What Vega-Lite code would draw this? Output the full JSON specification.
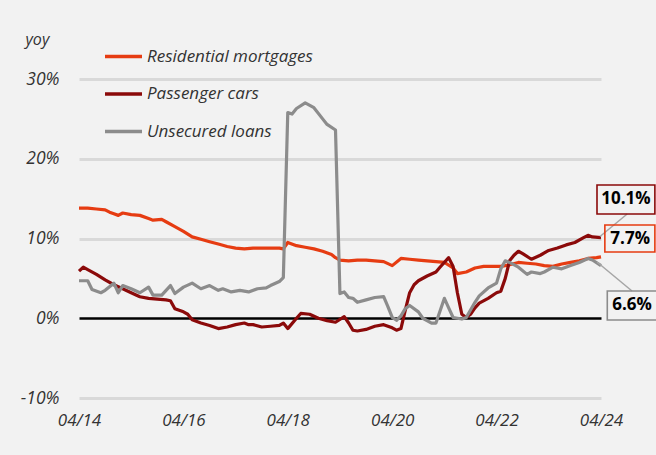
{
"$schema": "https://vega.github.io/schema/vega-lite/v6.json",
"width": 522, "height": 319,
"autosize": {"type": "none"},
"padding": {"left": 79, "top": 79, "right": 55, "bottom": 57},
"background": "#f2f2f2",
"config": {"view": {"stroke": null}, "font": "Open Sans",
  "axis": {"labelColor": "#333333", "labelFontStyle": "italic", "labelFontSize": 17, "labelFont": "Open Sans", "ticks": false, "tickSize": 0, "domain": false}},
"datasets": {
"series": [
{"d":"2014-04-01","s":"Residential mortgages","v":13.8},
{"d":"2014-06-01","s":"Residential mortgages","v":13.8},
{"d":"2014-08-01","s":"Residential mortgages","v":13.7},
{"d":"2014-10-01","s":"Residential mortgages","v":13.6},
{"d":"2014-11-01","s":"Residential mortgages","v":13.3},
{"d":"2014-12-01","s":"Residential mortgages","v":13.1},
{"d":"2015-01-01","s":"Residential mortgages","v":12.9},
{"d":"2015-02-01","s":"Residential mortgages","v":13.2},
{"d":"2015-04-01","s":"Residential mortgages","v":13.0},
{"d":"2015-06-01","s":"Residential mortgages","v":12.9},
{"d":"2015-08-01","s":"Residential mortgages","v":12.5},
{"d":"2015-09-01","s":"Residential mortgages","v":12.3},
{"d":"2015-11-01","s":"Residential mortgages","v":12.4},
{"d":"2015-12-01","s":"Residential mortgages","v":12.1},
{"d":"2016-02-01","s":"Residential mortgages","v":11.5},
{"d":"2016-04-01","s":"Residential mortgages","v":10.9},
{"d":"2016-06-01","s":"Residential mortgages","v":10.2},
{"d":"2016-08-01","s":"Residential mortgages","v":9.9},
{"d":"2016-10-01","s":"Residential mortgages","v":9.6},
{"d":"2016-12-01","s":"Residential mortgages","v":9.3},
{"d":"2017-02-01","s":"Residential mortgages","v":9.0},
{"d":"2017-04-01","s":"Residential mortgages","v":8.8},
{"d":"2017-06-01","s":"Residential mortgages","v":8.7},
{"d":"2017-08-01","s":"Residential mortgages","v":8.8},
{"d":"2017-10-01","s":"Residential mortgages","v":8.8},
{"d":"2017-12-01","s":"Residential mortgages","v":8.8},
{"d":"2018-02-01","s":"Residential mortgages","v":8.8},
{"d":"2018-03-01","s":"Residential mortgages","v":8.7},
{"d":"2018-04-01","s":"Residential mortgages","v":9.5},
{"d":"2018-06-01","s":"Residential mortgages","v":9.1},
{"d":"2018-08-01","s":"Residential mortgages","v":8.9},
{"d":"2018-10-01","s":"Residential mortgages","v":8.7},
{"d":"2018-12-01","s":"Residential mortgages","v":8.4},
{"d":"2019-02-01","s":"Residential mortgages","v":8.0},
{"d":"2019-03-01","s":"Residential mortgages","v":7.6},
{"d":"2019-04-01","s":"Residential mortgages","v":7.3},
{"d":"2019-06-01","s":"Residential mortgages","v":7.2},
{"d":"2019-08-01","s":"Residential mortgages","v":7.3},
{"d":"2019-10-01","s":"Residential mortgages","v":7.3},
{"d":"2019-12-01","s":"Residential mortgages","v":7.2},
{"d":"2020-02-01","s":"Residential mortgages","v":7.1},
{"d":"2020-04-01","s":"Residential mortgages","v":6.6},
{"d":"2020-06-01","s":"Residential mortgages","v":7.5},
{"d":"2020-08-01","s":"Residential mortgages","v":7.4},
{"d":"2020-10-01","s":"Residential mortgages","v":7.3},
{"d":"2020-12-01","s":"Residential mortgages","v":7.2},
{"d":"2021-02-01","s":"Residential mortgages","v":7.1},
{"d":"2021-04-01","s":"Residential mortgages","v":7.0},
{"d":"2021-06-01","s":"Residential mortgages","v":6.3},
{"d":"2021-07-01","s":"Residential mortgages","v":5.6},
{"d":"2021-09-01","s":"Residential mortgages","v":5.8},
{"d":"2021-11-01","s":"Residential mortgages","v":6.3},
{"d":"2022-01-01","s":"Residential mortgages","v":6.5},
{"d":"2022-03-01","s":"Residential mortgages","v":6.5},
{"d":"2022-05-01","s":"Residential mortgages","v":6.5},
{"d":"2022-07-01","s":"Residential mortgages","v":6.7},
{"d":"2022-09-01","s":"Residential mortgages","v":7.0},
{"d":"2022-11-01","s":"Residential mortgages","v":6.9},
{"d":"2023-01-01","s":"Residential mortgages","v":6.8},
{"d":"2023-03-01","s":"Residential mortgages","v":6.6},
{"d":"2023-05-01","s":"Residential mortgages","v":6.5},
{"d":"2023-07-01","s":"Residential mortgages","v":6.8},
{"d":"2023-09-01","s":"Residential mortgages","v":7.0},
{"d":"2023-11-01","s":"Residential mortgages","v":7.2},
{"d":"2024-01-01","s":"Residential mortgages","v":7.5},
{"d":"2024-03-01","s":"Residential mortgages","v":7.6},
{"d":"2024-04-01","s":"Residential mortgages","v":7.7},
{"d":"2014-04-01","s":"Passenger cars","v":5.9},
{"d":"2014-05-01","s":"Passenger cars","v":6.4},
{"d":"2014-06-01","s":"Passenger cars","v":6.1},
{"d":"2014-08-01","s":"Passenger cars","v":5.5},
{"d":"2014-10-01","s":"Passenger cars","v":4.8},
{"d":"2014-12-01","s":"Passenger cars","v":4.2},
{"d":"2015-02-01","s":"Passenger cars","v":3.7},
{"d":"2015-04-01","s":"Passenger cars","v":3.2},
{"d":"2015-06-01","s":"Passenger cars","v":2.7},
{"d":"2015-08-01","s":"Passenger cars","v":2.5},
{"d":"2015-10-01","s":"Passenger cars","v":2.4},
{"d":"2015-12-01","s":"Passenger cars","v":2.3},
{"d":"2016-01-01","s":"Passenger cars","v":2.2},
{"d":"2016-02-01","s":"Passenger cars","v":1.2},
{"d":"2016-04-01","s":"Passenger cars","v":0.8},
{"d":"2016-05-01","s":"Passenger cars","v":0.5},
{"d":"2016-06-01","s":"Passenger cars","v":-0.2},
{"d":"2016-08-01","s":"Passenger cars","v":-0.6},
{"d":"2016-10-01","s":"Passenger cars","v":-0.9},
{"d":"2016-12-01","s":"Passenger cars","v":-1.3},
{"d":"2017-02-01","s":"Passenger cars","v":-1.1},
{"d":"2017-04-01","s":"Passenger cars","v":-0.8},
{"d":"2017-06-01","s":"Passenger cars","v":-0.6},
{"d":"2017-07-01","s":"Passenger cars","v":-0.8},
{"d":"2017-08-01","s":"Passenger cars","v":-0.8},
{"d":"2017-10-01","s":"Passenger cars","v":-1.1},
{"d":"2017-12-01","s":"Passenger cars","v":-1.0},
{"d":"2018-02-01","s":"Passenger cars","v":-0.9},
{"d":"2018-03-01","s":"Passenger cars","v":-0.6},
{"d":"2018-04-01","s":"Passenger cars","v":-1.3},
{"d":"2018-06-01","s":"Passenger cars","v":0.0},
{"d":"2018-07-01","s":"Passenger cars","v":0.6},
{"d":"2018-09-01","s":"Passenger cars","v":0.5},
{"d":"2018-11-01","s":"Passenger cars","v":0.0},
{"d":"2019-01-01","s":"Passenger cars","v":-0.3},
{"d":"2019-03-01","s":"Passenger cars","v":-0.5},
{"d":"2019-05-01","s":"Passenger cars","v":0.2},
{"d":"2019-06-01","s":"Passenger cars","v":-0.6},
{"d":"2019-07-01","s":"Passenger cars","v":-1.5},
{"d":"2019-08-01","s":"Passenger cars","v":-1.6},
{"d":"2019-10-01","s":"Passenger cars","v":-1.4},
{"d":"2019-12-01","s":"Passenger cars","v":-1.0},
{"d":"2020-02-01","s":"Passenger cars","v":-0.8},
{"d":"2020-04-01","s":"Passenger cars","v":-1.2},
{"d":"2020-05-01","s":"Passenger cars","v":-1.5},
{"d":"2020-06-01","s":"Passenger cars","v":-1.3},
{"d":"2020-07-01","s":"Passenger cars","v":1.0},
{"d":"2020-08-01","s":"Passenger cars","v":3.2},
{"d":"2020-09-01","s":"Passenger cars","v":4.2},
{"d":"2020-10-01","s":"Passenger cars","v":4.7},
{"d":"2020-12-01","s":"Passenger cars","v":5.3},
{"d":"2021-02-01","s":"Passenger cars","v":5.8},
{"d":"2021-03-01","s":"Passenger cars","v":6.4},
{"d":"2021-05-01","s":"Passenger cars","v":7.6},
{"d":"2021-06-01","s":"Passenger cars","v":6.5},
{"d":"2021-07-01","s":"Passenger cars","v":3.2},
{"d":"2021-08-01","s":"Passenger cars","v":0.5},
{"d":"2021-09-01","s":"Passenger cars","v":0.1},
{"d":"2021-10-01","s":"Passenger cars","v":0.5},
{"d":"2021-11-01","s":"Passenger cars","v":1.3},
{"d":"2021-12-01","s":"Passenger cars","v":1.9},
{"d":"2022-02-01","s":"Passenger cars","v":2.5},
{"d":"2022-04-01","s":"Passenger cars","v":3.2},
{"d":"2022-05-01","s":"Passenger cars","v":3.4},
{"d":"2022-06-01","s":"Passenger cars","v":5.0},
{"d":"2022-07-01","s":"Passenger cars","v":7.2},
{"d":"2022-08-01","s":"Passenger cars","v":7.9},
{"d":"2022-09-01","s":"Passenger cars","v":8.4},
{"d":"2022-10-01","s":"Passenger cars","v":8.1},
{"d":"2022-12-01","s":"Passenger cars","v":7.4},
{"d":"2023-02-01","s":"Passenger cars","v":7.9},
{"d":"2023-04-01","s":"Passenger cars","v":8.5},
{"d":"2023-06-01","s":"Passenger cars","v":8.8},
{"d":"2023-08-01","s":"Passenger cars","v":9.2},
{"d":"2023-10-01","s":"Passenger cars","v":9.5},
{"d":"2023-12-01","s":"Passenger cars","v":10.1},
{"d":"2024-01-01","s":"Passenger cars","v":10.4},
{"d":"2024-02-01","s":"Passenger cars","v":10.2},
{"d":"2024-04-01","s":"Passenger cars","v":10.1},
{"d":"2014-04-01","s":"Unsecured loans","v":4.7},
{"d":"2014-06-01","s":"Unsecured loans","v":4.7},
{"d":"2014-07-01","s":"Unsecured loans","v":3.6},
{"d":"2014-09-01","s":"Unsecured loans","v":3.2},
{"d":"2014-10-01","s":"Unsecured loans","v":3.5},
{"d":"2014-12-01","s":"Unsecured loans","v":4.4},
{"d":"2015-01-01","s":"Unsecured loans","v":3.2},
{"d":"2015-02-01","s":"Unsecured loans","v":4.1},
{"d":"2015-04-01","s":"Unsecured loans","v":3.7},
{"d":"2015-06-01","s":"Unsecured loans","v":3.2},
{"d":"2015-08-01","s":"Unsecured loans","v":3.9},
{"d":"2015-09-01","s":"Unsecured loans","v":2.9},
{"d":"2015-11-01","s":"Unsecured loans","v":2.9},
{"d":"2016-01-01","s":"Unsecured loans","v":4.1},
{"d":"2016-02-01","s":"Unsecured loans","v":3.1},
{"d":"2016-04-01","s":"Unsecured loans","v":3.9},
{"d":"2016-06-01","s":"Unsecured loans","v":4.4},
{"d":"2016-08-01","s":"Unsecured loans","v":3.7},
{"d":"2016-10-01","s":"Unsecured loans","v":4.1},
{"d":"2016-12-01","s":"Unsecured loans","v":3.5},
{"d":"2017-01-01","s":"Unsecured loans","v":3.7},
{"d":"2017-03-01","s":"Unsecured loans","v":3.3},
{"d":"2017-05-01","s":"Unsecured loans","v":3.5},
{"d":"2017-07-01","s":"Unsecured loans","v":3.3},
{"d":"2017-09-01","s":"Unsecured loans","v":3.7},
{"d":"2017-11-01","s":"Unsecured loans","v":3.8},
{"d":"2017-12-01","s":"Unsecured loans","v":4.1},
{"d":"2018-02-01","s":"Unsecured loans","v":4.6},
{"d":"2018-03-01","s":"Unsecured loans","v":5.1},
{"d":"2018-04-01","s":"Unsecured loans","v":25.8},
{"d":"2018-05-01","s":"Unsecured loans","v":25.6},
{"d":"2018-06-01","s":"Unsecured loans","v":26.3},
{"d":"2018-08-01","s":"Unsecured loans","v":27.0},
{"d":"2018-10-01","s":"Unsecured loans","v":26.4},
{"d":"2018-12-01","s":"Unsecured loans","v":25.0},
{"d":"2019-01-01","s":"Unsecured loans","v":24.3},
{"d":"2019-03-01","s":"Unsecured loans","v":23.6},
{"d":"2019-04-01","s":"Unsecured loans","v":3.1},
{"d":"2019-05-01","s":"Unsecured loans","v":3.3},
{"d":"2019-06-01","s":"Unsecured loans","v":2.6},
{"d":"2019-07-01","s":"Unsecured loans","v":2.5},
{"d":"2019-08-01","s":"Unsecured loans","v":2.0},
{"d":"2019-10-01","s":"Unsecured loans","v":2.3},
{"d":"2019-12-01","s":"Unsecured loans","v":2.6},
{"d":"2020-02-01","s":"Unsecured loans","v":2.7},
{"d":"2020-03-01","s":"Unsecured loans","v":1.5},
{"d":"2020-04-01","s":"Unsecured loans","v":0.1},
{"d":"2020-05-01","s":"Unsecured loans","v":-0.25},
{"d":"2020-06-01","s":"Unsecured loans","v":0.3},
{"d":"2020-07-01","s":"Unsecured loans","v":1.2},
{"d":"2020-08-01","s":"Unsecured loans","v":1.6},
{"d":"2020-10-01","s":"Unsecured loans","v":0.8},
{"d":"2020-11-01","s":"Unsecured loans","v":0.0},
{"d":"2021-01-01","s":"Unsecured loans","v":-0.6},
{"d":"2021-02-01","s":"Unsecured loans","v":-0.6},
{"d":"2021-04-01","s":"Unsecured loans","v":2.5},
{"d":"2021-05-01","s":"Unsecured loans","v":1.3},
{"d":"2021-06-01","s":"Unsecured loans","v":0.1},
{"d":"2021-08-01","s":"Unsecured loans","v":-0.1},
{"d":"2021-09-01","s":"Unsecured loans","v":0.1},
{"d":"2021-11-01","s":"Unsecured loans","v":2.0},
{"d":"2021-12-01","s":"Unsecured loans","v":2.8},
{"d":"2022-02-01","s":"Unsecured loans","v":3.8},
{"d":"2022-03-01","s":"Unsecured loans","v":4.1},
{"d":"2022-04-01","s":"Unsecured loans","v":4.4},
{"d":"2022-05-01","s":"Unsecured loans","v":6.2},
{"d":"2022-06-01","s":"Unsecured loans","v":7.2},
{"d":"2022-07-01","s":"Unsecured loans","v":7.0},
{"d":"2022-09-01","s":"Unsecured loans","v":6.4},
{"d":"2022-11-01","s":"Unsecured loans","v":5.5},
{"d":"2022-12-01","s":"Unsecured loans","v":5.8},
{"d":"2023-02-01","s":"Unsecured loans","v":5.6},
{"d":"2023-03-01","s":"Unsecured loans","v":5.8},
{"d":"2023-05-01","s":"Unsecured loans","v":6.4},
{"d":"2023-07-01","s":"Unsecured loans","v":6.2},
{"d":"2023-09-01","s":"Unsecured loans","v":6.6},
{"d":"2023-11-01","s":"Unsecured loans","v":7.0},
{"d":"2024-01-01","s":"Unsecured loans","v":7.5},
{"d":"2024-02-01","s":"Unsecured loans","v":7.3},
{"d":"2024-04-01","s":"Unsecured loans","v":6.6}
],
"boxes": [
{"s":"Passenger cars","t":"10.1%","x1":"2024-03-04","x2":"2025-04-13","y1":13.07,"y2":16.7,"tx":"2024-09-22","ty":14.9},
{"s":"Residential mortgages","t":"7.7%","x1":"2024-04-28","x2":"2025-04-13","y1":8.31,"y2":11.69,"tx":"2024-10-22","ty":10.0},
{"s":"Unsecured loans","t":"6.6%","x1":"2024-05-15","x2":"2025-04-27","y1":-0.22,"y2":3.42,"tx":"2024-11-04","ty":1.6}
],
"links": [
{"s":"Passenger cars","x1":"2024-03-25","y1":10.25,"x2":"2024-10-01","y2":13.07},
{"s":"Unsecured loans","x1":"2024-03-04","y1":7.05,"x2":"2024-11-04","y2":3.42}
]
},
"layer": [
{
 "data": {"name": "series"},
 "mark": {"type": "line", "strokeWidth": 3.2, "strokeJoin": "round"},
 "encoding": {
  "x": {"field": "d", "type": "temporal", "title": "",
    "scale": {"domain": [{"year": 2014, "month": 4, "date": 1}, {"year": 2024, "month": 4, "date": 1}]},
    "axis": {"title": null, "grid": false, "format": "%m/%y", "labelPadding": 14, "labelBaseline": "top", "labelFlush": false, "labelAlign": "center",
      "values": [{"year": 2014, "month": 4, "date": 1}, {"year": 2016, "month": 4, "date": 1}, {"year": 2018, "month": 4, "date": 1}, {"year": 2020, "month": 4, "date": 1}, {"year": 2022, "month": 4, "date": 1}, {"year": 2024, "month": 4, "date": 1}]}},
  "y": {"field": "v", "type": "quantitative", "title": "yoy",
    "scale": {"domain": [-10, 30], "nice": false, "zero": false},
    "axis": {"title": "yoy", "values": [-10, 0, 10, 20, 30], "labelExpr": "datum.value + '%'", "labelPadding": 20, "labelFontSize": 17.5, "labelFlush": false,
      "grid": true,
      "gridColor": {"condition": {"test": "datum.value === 0", "value": "#000000"}, "value": "#d9d9d9"},
      "gridWidth": {"condition": {"test": "datum.value === 0", "value": 2.5}, "value": 3},
      "titleAngle": 0, "titleAlign": "left", "titleBaseline": "alphabetic", "titleX": -54, "titleY": -35,
      "titleFontStyle": "italic", "titleFontWeight": "normal", "titleFontSize": 16, "titleColor": "#333333", "titleFont": "Open Sans"}},
  "color": {"field": "s", "type": "nominal",
    "scale": {"domain": ["Residential mortgages", "Passenger cars", "Unsecured loans"], "range": ["#e63c12", "#8b0a0a", "#8c8c8c"]},
    "legend": {"title": null, "orient": "none", "legendX": 24, "legendY": -43, "symbolType": "stroke", "symbolSize": 1369,
      "symbolStrokeWidth": 3.5, "labelFontSize": 17, "labelFontStyle": "italic", "labelColor": "#333333", "labelFont": "Open Sans",
      "labelOffset": 3, "labelLimit": 400, "rowPadding": 8.5, "padding": 0}}
 }
},
{
 "data": {"name": "links"},
 "mark": {"type": "rule", "color": "#a6a6a6", "strokeWidth": 1.5},
 "encoding": {
  "x": {"field": "x1", "type": "temporal"}, "x2": {"field": "x2"},
  "y": {"field": "y1", "type": "quantitative"}, "y2": {"field": "y2"}
 }
},
{
 "data": {"name": "boxes"},
 "mark": {"type": "rect", "filled": false, "strokeWidth": 1.6},
 "encoding": {
  "x": {"field": "x1", "type": "temporal"}, "x2": {"field": "x2"},
  "y": {"field": "y1", "type": "quantitative"}, "y2": {"field": "y2"},
  "color": {"field": "s", "type": "nominal", "legend": null}
 }
},
{
 "data": {"name": "boxes"},
 "mark": {"type": "text", "fontWeight": "bold", "fontSize": 17, "color": "#000000", "baseline": "middle", "align": "center", "font": "Open Sans"},
 "encoding": {
  "x": {"field": "tx", "type": "temporal"},
  "y": {"field": "ty", "type": "quantitative"},
  "text": {"field": "t"}
 }
}
]
}
